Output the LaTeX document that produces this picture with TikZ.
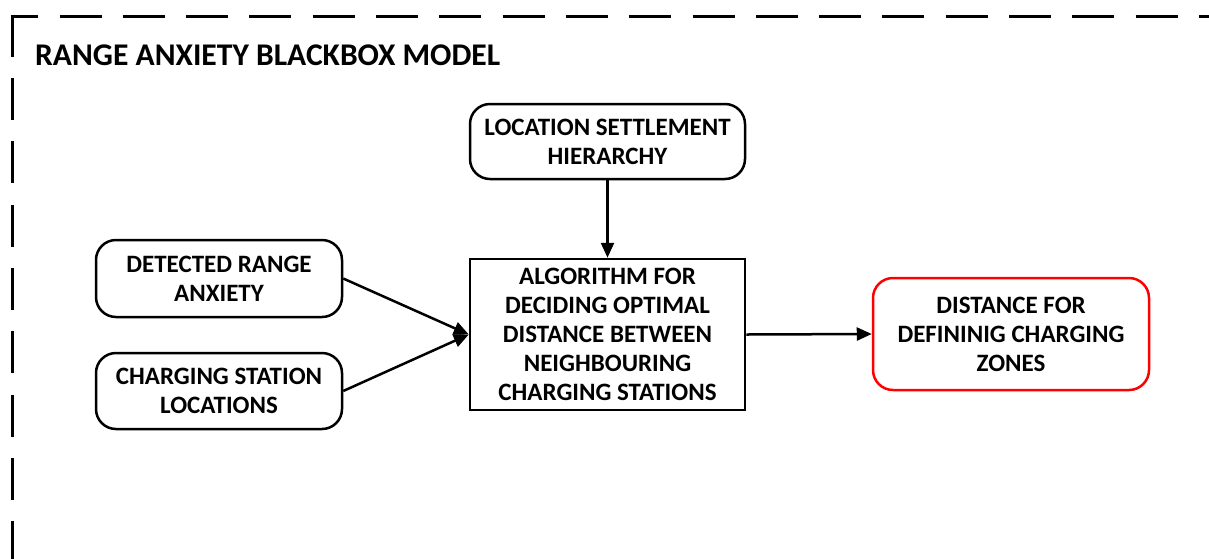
\documentclass[tikz,border=0pt]{standalone}
\usepackage{fontspec}
\setmainfont{Carlito}
\usetikzlibrary{arrows.meta}
\tikzset{
  box/.style={draw, line width=2.5pt, align=center, inner sep=0pt,
    font=\bfseries\fontsize{25}{29}\selectfont},
  rbox/.style={box, rounded corners=20pt},
  link/.style={line width=2.5pt, -{Triangle[length=15pt,width=13pt]}},
  frame/.style={line width=3pt, dash pattern=on 42pt off 21.3pt}
}
\begin{document}
\begin{tikzpicture}[x=1pt,y=-1pt]
\useasboundingbox (0,0) rectangle (1209,558);
\clip (0,0) rectangle (1209,558);
\fill[white] (0,0) rectangle (1209,558);
% dashed frame
\draw[frame, dash phase=14.3pt] (10.5,16.2) -- (1215,16.2);
\draw[frame] (12,14.7) -- (12,565);
\node[anchor=base west, inner sep=0pt, font=\bfseries\fontsize{31.6}{36}\selectfont] (title) at (35,65) {RANGE ANXIETY BLACKBOX MODEL};
\node[rbox, minimum width=275pt, minimum height=75pt] (loc) at (607.5,141.5) {LOCATION SETTLEMENT\\HIERARCHY};
\node[box, minimum width=275pt, minimum height=151pt] (alg) at (607.5,334.5) {ALGORITHM FOR\\DECIDING OPTIMAL\\DISTANCE BETWEEN\\NEIGHBOURING\\CHARGING STATIONS};
\node[rbox, minimum width=246pt, minimum height=77pt] (det) at (219,278.5) {DETECTED RANGE\\ANXIETY};
\node[rbox, minimum width=246pt, minimum height=76pt] (cha) at (219,391) {CHARGING STATION\\LOCATIONS};
\node[rbox, draw=red, minimum width=276pt, minimum height=112pt] (dist) at (1011,334) {DISTANCE FOR\\DEFININIG CHARGING\\ZONES};
\draw[link] (loc.south) -- (alg.north);
\draw[link] (det.east) -- (alg.west);
\draw[link] (cha.east) -- (alg.west);
\draw[link] (alg.east) -- (dist.west);
\end{tikzpicture}
\end{document}
